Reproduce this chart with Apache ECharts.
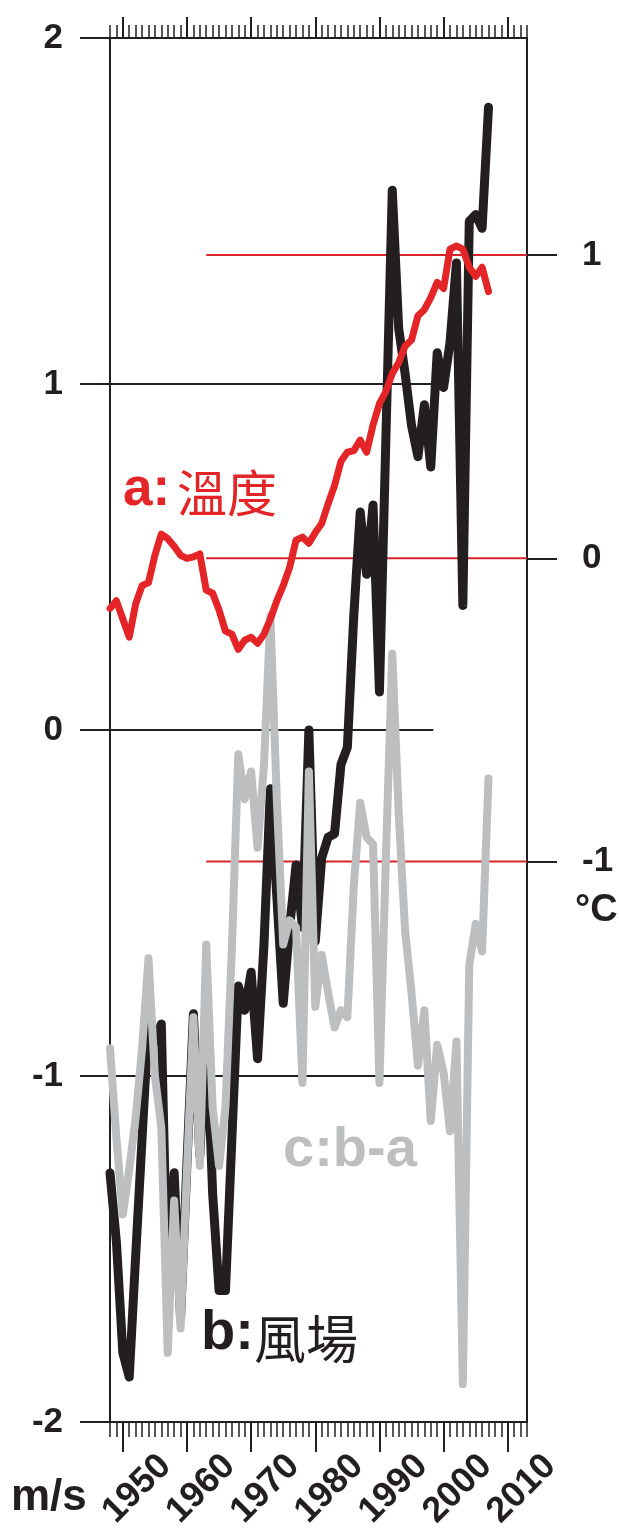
<!DOCTYPE html>
<html>
<head>
<meta charset="utf-8">
<script src="https://cdn.jsdelivr.net/npm/echarts@6/dist/echarts.min.js"></script>
<style>
  html, body { margin: 0; padding: 0; background: #ffffff; }
  #chart { width: 619px; height: 1532px; }
</style>
</head>
<body>
<div id="chart"></div>
<script>
// Annual series, 1948-2007
const years = [
  1948, 1949, 1950, 1951, 1952, 1953, 1954, 1955, 1956, 1957,
  1958, 1959, 1960, 1961, 1962, 1963, 1964, 1965, 1966, 1967,
  1968, 1969, 1970, 1971, 1972, 1973, 1974, 1975, 1976, 1977,
  1978, 1979, 1980, 1981, 1982, 1983, 1984, 1985, 1986, 1987,
  1988, 1989, 1990, 1991, 1992, 1993, 1994, 1995, 1996, 1997,
  1998, 1999, 2000, 2001, 2002, 2003, 2004, 2005, 2006, 2007
];

// a: temperature anomaly (°C, right axis)
const temperature = [
  -0.165, -0.14, -0.20, -0.26, -0.15, -0.09, -0.08, 0.01, 0.08, 0.065,
  0.04, 0.01, 0.00, 0.005, 0.015, -0.105, -0.115, -0.17, -0.24, -0.25,
  -0.30, -0.27, -0.26, -0.28, -0.25, -0.20, -0.14, -0.09, -0.03, 0.06,
  0.07, 0.05, 0.085, 0.115, 0.18, 0.24, 0.32, 0.35, 0.355, 0.39,
  0.35, 0.44, 0.51, 0.55, 0.61, 0.645, 0.70, 0.72, 0.80, 0.82,
  0.86, 0.91, 0.89, 1.02, 1.03, 1.02, 0.96, 0.93, 0.96, 0.88
];

// b: wind field (m/s, left axis)
const windField = [
  -1.28, -1.48, -1.80, -1.87, -1.52, -1.18, -0.84, -0.90, -0.85, -1.65,
  -1.28, -1.70, -1.25, -0.82, -1.23, -0.85, -1.34, -1.62, -1.62, -1.18,
  -0.74, -0.81, -0.70, -0.95, -0.62, -0.17, -0.48, -0.79, -0.57, -0.39,
  -0.57, 0.00, -0.61, -0.37, -0.31, -0.30, -0.10, -0.05, 0.33, 0.63,
  0.45, 0.65, 0.11, 0.84, 1.56, 1.16, 1.03, 0.88, 0.79, 0.94,
  0.76, 1.09, 0.99, 1.12, 1.35, 0.36, 1.47, 1.49, 1.45, 1.80
];

// c: b-a residual (m/s, left axis)
const residual = [
  -0.92, -1.18, -1.40, -1.27, -1.12, -0.92, -0.66, -1.00, -1.15, -1.80,
  -1.36, -1.73, -1.27, -0.83, -1.26, -0.62, -1.09, -1.26, -1.09, -0.63,
  -0.07, -0.20, -0.12, -0.34, -0.10, 0.33, -0.20, -0.62, -0.55, -0.57,
  -1.02, -0.12, -0.80, -0.65, -0.76, -0.86, -0.81, -0.83, -0.45, -0.21,
  -0.31, -0.33, -1.02, -0.37, 0.22, -0.24, -0.58, -0.76, -0.97, -0.81,
  -1.13, -0.91, -0.99, -1.16, -0.90, -1.89, -0.68, -0.56, -0.64, -0.14
];

// Axis ticks and reference levels
const decadeTicks = [1950, 1960, 1970, 1980, 1990, 2000, 2010];
const tempTicks = [-1, 0, 1];
const windRefLevels = [-1, 0, 1];
const windRefSpan = [1948, 1998.4];
const tempRefLevels = [-1, 0, 1];
const tempRefSpan = [1963, 2013];

const INK = '#231f20';
const RED = '#e42528';
const REF_RED = '#d8252b';
const GRAY = '#bcbec0';
const SANS = '"Liberation Sans", Arial, Helvetica, sans-serif';
const CJK = '"Noto Sans CJK TC", "Noto Sans CJK SC", sans-serif';

const chart = echarts.init(document.getElementById('chart'), null, { renderer: 'canvas' });

function pairs(values) {
  return years.map((y, i) => [y, values[i]]);
}

function refSeries(levels, span, yAxisIndex, color) {
  return levels.map(level => ({
    type: 'line',
    xAxisIndex: 0,
    yAxisIndex: yAxisIndex,
    data: [[span[0], level], [span[1], level]],
    symbol: 'none',
    silent: true,
    z: 2,
    lineStyle: { color: color, width: 2 },
    animation: false
  }));
}

const tickStyle = { color: INK, width: 2 };
const minorTickStyle = { color: INK, width: 1.5 };

const xAxes = [
  {
    type: 'value', position: 'bottom', min: 1948, max: 2013,
    axisLine: { show: true, onZero: false, lineStyle: { color: INK, width: 2 } },
    axisTick: { show: true, customValues: decadeTicks, length: 30, lineStyle: tickStyle },
    axisLabel: {
      show: true, customValues: decadeTicks, rotate: 45,
      formatter: v => String(v),
      align: 'center', verticalAlign: 'middle',
      margin: 81, padding: [0, 0, 0, 40],
      fontFamily: SANS, fontWeight: 'bold', fontSize: 36, color: INK
    },
    splitLine: { show: false }
  },
  {
    type: 'value', position: 'bottom', min: 1948, max: 2013, interval: 1,
    axisLine: { show: false, onZero: false },
    axisTick: { show: true, length: 15, lineStyle: minorTickStyle },
    axisLabel: { show: false },
    splitLine: { show: false }
  },
  {
    type: 'value', position: 'top', min: 1948, max: 2013,
    axisLine: { show: true, onZero: false, lineStyle: { color: INK, width: 2 } },
    axisTick: { show: true, customValues: decadeTicks, length: 21, lineStyle: tickStyle },
    axisLabel: { show: false },
    splitLine: { show: false }
  },
  {
    type: 'value', position: 'top', min: 1948, max: 2013, interval: 1,
    axisLine: { show: false, onZero: false },
    axisTick: { show: true, length: 13, lineStyle: minorTickStyle },
    axisLabel: { show: false },
    splitLine: { show: false }
  }
];

const yAxes = [
  {
    type: 'value', position: 'left', min: -2, max: 2, interval: 1,
    axisLine: { show: true, onZero: false, lineStyle: { color: INK, width: 2 } },
    axisTick: { show: true, length: 30, lineStyle: tickStyle },
    axisLabel: {
      margin: 47, fontFamily: SANS, fontWeight: 'bold', fontSize: 35, color: INK
    },
    splitLine: { show: false }
  },
  {
    type: 'value', position: 'right', min: -2.848, max: 1.716,
    axisLine: { show: true, onZero: false, lineStyle: { color: INK, width: 2 } },
    axisTick: { show: true, customValues: tempTicks, length: 30, lineStyle: tickStyle },
    axisLabel: {
      show: true, customValues: tempTicks, margin: 55,
      fontFamily: SANS, fontWeight: 'bold', fontSize: 35, color: INK
    },
    splitLine: { show: false }
  }
];

const series = [
  ...refSeries(windRefLevels, windRefSpan, 0, INK),
  ...refSeries(tempRefLevels, tempRefSpan, 1, REF_RED),
  {
    name: 'b', type: 'line', xAxisIndex: 0, yAxisIndex: 0,
    data: pairs(windField), symbol: 'none', z: 3,
    lineStyle: { color: INK, width: 9, cap: 'round', join: 'round' },
    animation: false
  },
  {
    name: 'c', type: 'line', xAxisIndex: 0, yAxisIndex: 0,
    data: pairs(residual), symbol: 'none', z: 4,
    lineStyle: { color: GRAY, width: 8, cap: 'round', join: 'round' },
    animation: false
  },
  {
    name: 'a', type: 'line', xAxisIndex: 0, yAxisIndex: 1,
    data: pairs(temperature), symbol: 'none', z: 5,
    lineStyle: { color: RED, width: 7, cap: 'round', join: 'round' },
    animation: false
  }
];

function label(text, x, y, size, color, family, weight) {
  return {
    type: 'text', x: x, y: y, silent: true, z: 10,
    style: {
      text: text, fill: color, fontSize: size, fontFamily: family,
      fontWeight: weight, align: 'left', verticalAlign: 'middle'
    }
  };
}

const graphics = [
  label('a:', 123, 490, 53, RED, SANS, 'bold'),
  label('溫度', 177, 493, 50, RED, CJK, 'normal'),
  label('b:', 201, 1334, 56, INK, SANS, 'bold'),
  label('風場', 254, 1339, 52, INK, CJK, 'normal'),
  label('c:b-a', 283, 1151, 56, GRAY, SANS, 'bold'),
  label('m/s', 11, 1498, 44, INK, SANS, 'bold'),
  label('°C', 575, 911, 38, INK, SANS, 'bold')
];

chart.setOption({
  animation: false,
  backgroundColor: '#ffffff',
  grid: { left: 110, right: 92, top: 38, bottom: 109, containLabel: false },
  xAxis: xAxes,
  yAxis: yAxes,
  series: series,
  graphic: graphics
});
</script>
</body>
</html>
